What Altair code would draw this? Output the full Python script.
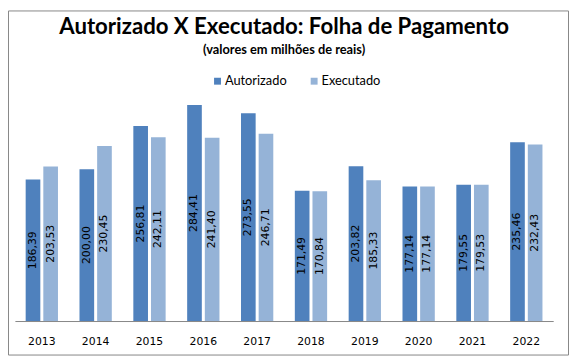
import altair as alt
import pandas as pd

years = ["2013", "2014", "2015", "2016", "2017", "2018", "2019", "2020", "2021", "2022"]
autorizado = [186.39, 200.00, 256.81, 284.41, 273.55, 171.49, 203.82, 177.14, 179.55, 235.46]
executado = [203.53, 230.45, 242.11, 241.40, 246.71, 170.84, 185.33, 177.14, 179.53, 232.43]
series = ["Autorizado", "Executado"]
colors = ["#4F81BD", "#95B3D7"]
title_text = "Autorizado X Executado: Folha de Pagamento"
subtitle_text = "(valores em milhões de reais)"

rows = []
for i, yr in enumerate(years):
    for s, vals in zip(series, [autorizado, executado]):
        v = vals[i]
        rows.append({"ano": yr, "serie": s, "valor": v,
                     "rotulo": f"{v:.2f}".replace(".", ","), "meio": v / 2})
df = pd.DataFrame(rows)

x_enc = alt.X("ano:N", sort=years,
              scale=alt.Scale(paddingInner=0.4, paddingOuter=0.2),
              axis=alt.Axis(title=None, labelAngle=0, ticks=False, grid=False,
                            domainColor="#868686", domainWidth=1,
                            labelFont="DejaVu Sans", labelFontSize=11,
                            labelColor="#000000", labelPadding=15))
xo_enc = alt.XOffset("serie:N", sort=series,
                     scale=alt.Scale(paddingInner=0.17, paddingOuter=0))

bars = alt.Chart(df).mark_bar().encode(
    x=x_enc,
    xOffset=xo_enc,
    y=alt.Y("valor:Q", scale=alt.Scale(domain=[0, 300], nice=False), axis=None),
    color=alt.Color("serie:N", sort=series,
                    scale=alt.Scale(domain=series, range=colors),
                    legend=alt.Legend(orient="none", legendX=199, legendY=-19,
                                      direction="horizontal", title=None,
                                      symbolType="square", symbolSize=49,
                                      symbolStrokeWidth=0,
                                      labelFont="Lato", labelFontSize=13,
                                      labelColor="#000000", columnPadding=21,
                                      labelOffset=1, padding=0)),
)

labels = alt.Chart(df).mark_text(angle=270, font="DejaVu Sans", fontSize=11,
                                 color="#000000", align="center",
                                 baseline="middle").encode(
    x=x_enc,
    xOffset=xo_enc,
    y=alt.Y("meio:Q", scale=alt.Scale(domain=[0, 300], nice=False), axis=None),
    text="rotulo:N",
)

one = pd.DataFrame({"t": [title_text], "s": [subtitle_text]})

title_mark = alt.Chart(one).mark_text(
    font="Lato", fontSize=22.5, fontWeight="bold", color="#000000",
    align="center", baseline="alphabetic"
).encode(x=alt.value(273), y=alt.value(-60), text="t:N")

subtitle_mark = alt.Chart(one).mark_text(
    font="Lato", fontSize=13, fontWeight="bold", color="#000000",
    align="center", baseline="alphabetic"
).encode(x=alt.value(273), y=alt.value(-40), text="s:N")

border = alt.Chart(one).mark_rect(
    fillOpacity=0, stroke="#868686", strokeWidth=1
).encode(x=alt.value(-6.5), x2=alt.value(561.5), y=alt.value(-83.5), y2=alt.value(265.5))

chart = alt.layer(bars, labels, title_mark, subtitle_mark, border).properties(
    width=546,
    height=231,
    autosize=alt.AutoSizeParams(type="none"),
    padding={"left": 7, "top": 84, "right": 16, "bottom": 35},
).configure_view(strokeWidth=0)

chart.save("out.html", embed_options={"renderer": "svg", "actions": False})
